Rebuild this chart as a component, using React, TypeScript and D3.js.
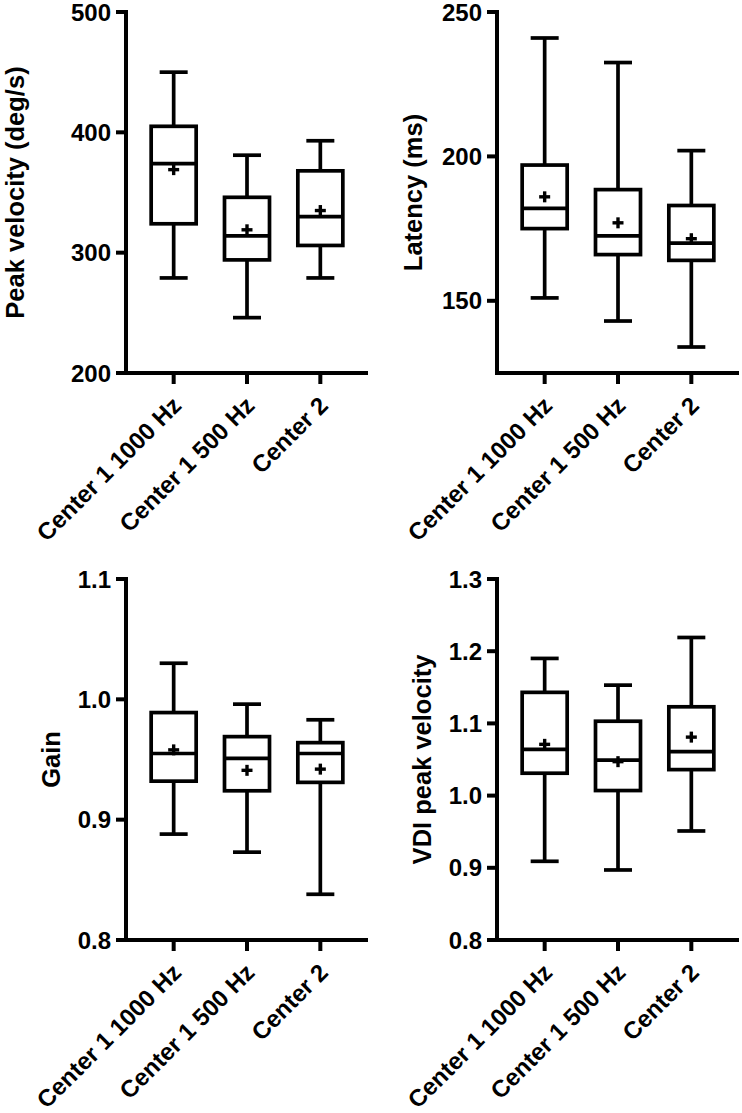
import React from "react";
import * as d3 from "d3";

type Stat = { min: number; q1: number; median: number; q3: number; max: number; mean: number };

const categories = ["Center 1 1000 Hz", "Center 1 500 Hz", "Center 2"];

const peakVelocity: Stat[] = [
  { min: 279, q1: 324, median: 374, q3: 405, max: 450, mean: 369 },
  { min: 246, q1: 294, median: 314, q3: 346, max: 381, mean: 319 },
  { min: 279, q1: 306, median: 330, q3: 368, max: 393, mean: 335 },
];
const latency: Stat[] = [
  { min: 151, q1: 175, median: 182, q3: 197, max: 241, mean: 186 },
  { min: 143, q1: 166, median: 172.5, q3: 188.5, max: 232.5, mean: 177 },
  { min: 134, q1: 164, median: 170, q3: 183, max: 202, mean: 171.5 },
];
const gain: Stat[] = [
  { min: 0.888, q1: 0.932, median: 0.955, q3: 0.989, max: 1.03, mean: 0.958 },
  { min: 0.873, q1: 0.924, median: 0.951, q3: 0.969, max: 0.996, mean: 0.941 },
  { min: 0.838, q1: 0.931, median: 0.955, q3: 0.964, max: 0.983, mean: 0.942 },
];
const vdiPeakVelocity: Stat[] = [
  { min: 0.909, q1: 1.031, median: 1.064, q3: 1.143, max: 1.19, mean: 1.071 },
  { min: 0.897, q1: 1.007, median: 1.049, q3: 1.103, max: 1.153, mean: 1.047 },
  { min: 0.951, q1: 1.036, median: 1.061, q3: 1.123, max: 1.219, mean: 1.081 },
];

const peakTicks = [200, 300, 400, 500];
const latencyTicks = [150, 200, 250];
const gainTicks = [0.8, 0.9, 1.0, 1.1];
const vdiTicks = [0.8, 0.9, 1.0, 1.1, 1.2, 1.3];

const FONT = "'Liberation Sans', Arial, Helvetica, sans-serif";

type PanelProps = {
  data: Stat[];
  domain: [number, number];
  ticks: number[];
  fmt: (v: number) => string;
  title: string;
  x0: number;
  x1: number;
  y0: number;
  y1: number;
  titleX: number;
};

function Panel({ data, domain, ticks, fmt, title, x0, x1, y0, y1, titleX }: PanelProps) {
  const y = d3.scaleLinear().domain(domain).range([y1, y0]);
  const x = d3.scalePoint<string>().domain(categories).range([x0, x1]).padding(0.65);
  const boxW = 45;
  const capW = 28;
  const sw = 3.7;
  const aw = 4;
  return (
    <g>
      {/* y axis */}
      <line x1={x0} x2={x0} y1={y0 - aw / 2} y2={y1} stroke="#000" strokeWidth={aw} />
      {ticks.map((t) => (
        <g key={t}>
          <line x1={x0 - 10} x2={x0} y1={y(t)} y2={y(t)} stroke="#000" strokeWidth={aw} />
          <text
            x={x0 - 15}
            y={y(t)}
            textAnchor="end"
            dominantBaseline="central"
            fontFamily={FONT}
            fontWeight="bold"
            fontSize={24}
          >
            {fmt(t)}
          </text>
        </g>
      ))}
      {/* x axis */}
      <line x1={x0 - aw / 2} x2={x1} y1={y1} y2={y1} stroke="#000" strokeWidth={aw} />
      {categories.map((c) => (
        <g key={c}>
          <line x1={x(c)!} x2={x(c)!} y1={y1} y2={y1 + 11} stroke="#000" strokeWidth={aw} />
          <text
            transform={`translate(${x(c)! + 9},${y1 + 34}) rotate(-45)`}
            textAnchor="end"
            fontFamily={FONT}
            fontWeight="bold"
            fontSize={24}
          >
            {c}
          </text>
        </g>
      ))}
      {/* title */}
      <text
        transform={`translate(${titleX},${(y0 + y1) / 2}) rotate(-90)`}
        textAnchor="middle"
        fontFamily={FONT}
        fontWeight="bold"
        fontSize={25.5}
      >
        {title}
      </text>
      {/* boxes */}
      {data.map((d, i) => {
        const cx = x(categories[i])!;
        return (
          <g key={i} stroke="#000" strokeWidth={sw} fill="none">
            <line x1={cx} x2={cx} y1={y(d.max)} y2={y(d.q3)} />
            <line x1={cx} x2={cx} y1={y(d.q1)} y2={y(d.min)} />
            <line x1={cx - capW / 2} x2={cx + capW / 2} y1={y(d.max)} y2={y(d.max)} />
            <line x1={cx - capW / 2} x2={cx + capW / 2} y1={y(d.min)} y2={y(d.min)} />
            <rect x={cx - boxW / 2} y={y(d.q3)} width={boxW} height={y(d.q1) - y(d.q3)} fill="#fff" />
            <line x1={cx - boxW / 2} x2={cx + boxW / 2} y1={y(d.median)} y2={y(d.median)} />
            <line x1={cx - 5.5} x2={cx + 5.5} y1={y(d.mean)} y2={y(d.mean)} strokeWidth={3.4} />
            <line x1={cx} x2={cx} y1={y(d.mean) - 5.5} y2={y(d.mean) + 5.5} strokeWidth={3.4} />
          </g>
        );
      })}
    </g>
  );
}

export default function App() {
  const intFmt = (v: number) => d3.format("d")(v);
  const decFmt = (v: number) => d3.format(".1f")(v);
  return (
    <svg
      width={742}
      height={1113}
      style={{ position: "absolute", left: 0, top: 0, background: "#fff" }}
    >
      <rect width={742} height={1113} fill="#fff" />
      <Panel data={peakVelocity} domain={[200, 500]} ticks={peakTicks} fmt={intFmt}
        title="Peak velocity (deg/s)" x0={126} x1={368} y0={12} y1={373} titleX={24} />
      <Panel data={latency} domain={[125, 250]} ticks={latencyTicks} fmt={intFmt}
        title="Latency (ms)" x0={497} x1={739} y0={12} y1={373} titleX={422} />
      <Panel data={gain} domain={[0.8, 1.1]} ticks={gainTicks} fmt={decFmt}
        title="Gain" x0={126} x1={368} y0={579} y1={940} titleX={60} />
      <Panel data={vdiPeakVelocity} domain={[0.8, 1.3]} ticks={vdiTicks} fmt={decFmt}
        title="VDI peak velocity" x0={497} x1={739} y0={579} y1={940} titleX={431} />
    </svg>
  );
}
